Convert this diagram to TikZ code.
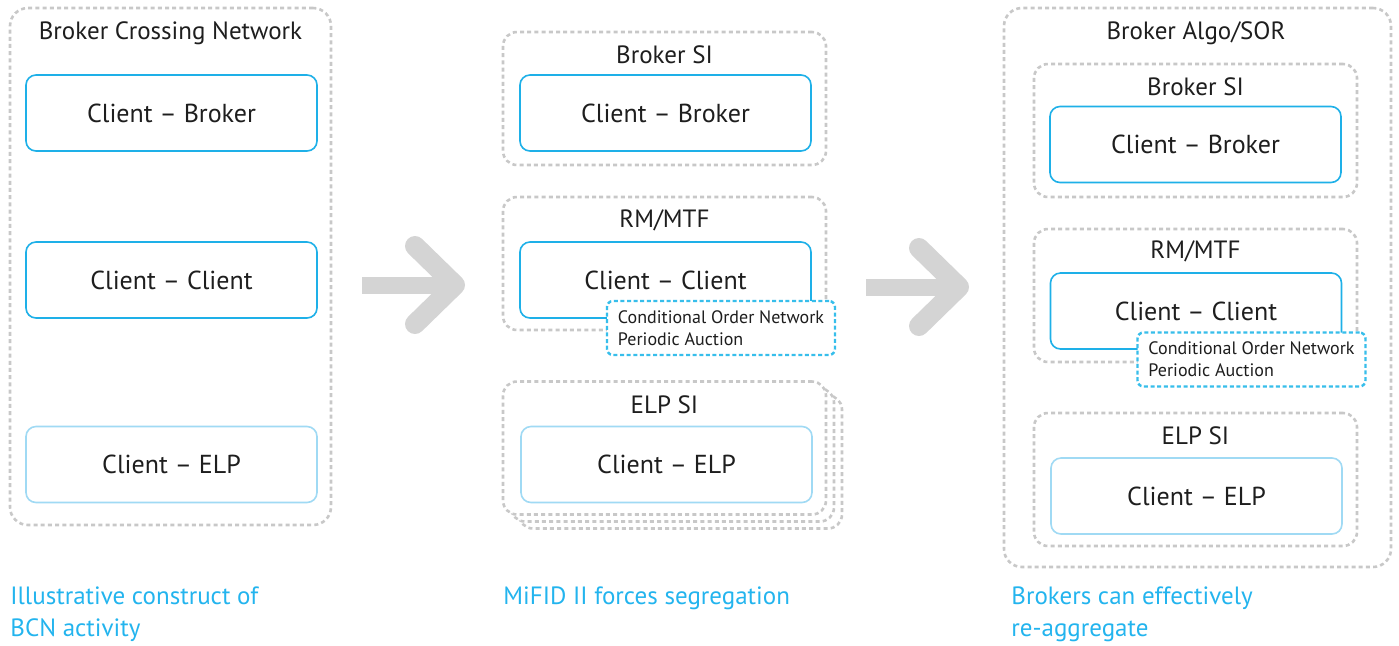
\documentclass[tikz,border=0pt]{standalone}
\usepackage{fontspec}
\setmainfont{PT Sans}
\definecolor{boxblue}{RGB}{30,176,232}
\definecolor{lightblue}{RGB}{160,218,244}
\definecolor{condblue}{RGB}{55,190,235}
\definecolor{dashgray}{RGB}{200,200,200}
\definecolor{arrowgray}{RGB}{212,212,212}
\definecolor{capblue}{RGB}{35,180,238}
\definecolor{txt}{RGB}{30,30,30}
\tikzset{
  outerbox/.style={draw=dashgray, line width=1.3pt, dash pattern=on 2pt off 1.6pt, rounded corners=9pt, fill=white},
  groupbox/.style={draw=dashgray, line width=1.3pt, dash pattern=on 2pt off 1.6pt, rounded corners=7pt, fill=white, minimum width=161.5pt, minimum height=66.5pt},
  innerbox/.style={draw=boxblue, line width=0.8pt, rounded corners=5pt, fill=white, minimum width=145.5pt, minimum height=38pt, font=\fontsize{13}{15}\selectfont, text=txt},
  elpbox/.style={innerbox, draw=lightblue},
  condbox/.style={draw=condblue, line width=1.2pt, dash pattern=on 2pt off 1.3pt, rounded corners=3pt, fill=white, minimum width=114pt, minimum height=27pt, align=left, font=\fontsize{9}{11}\selectfont, text=txt, inner sep=0pt},
  title/.style={font=\fontsize{12.5}{15}\selectfont, text=txt, inner sep=0pt},
  caption/.style={font=\fontsize{12.5}{16}\selectfont, text=capblue, anchor=west, align=left, inner sep=0pt},
  arrowbar/.style={draw=arrowgray, line width=8.5pt},
  arrowhead/.style={draw=arrowgray, line width=10pt, line cap=round, line join=round}
}
\begin{document}
\begin{tikzpicture}[x=0.5pt,y=-0.5pt]
\useasboundingbox (0,0) rectangle (1399,645);
% ---------- Panel 1
\node[outerbox, minimum width=160.5pt, minimum height=258.5pt] (bcn) at (170.5,266.5) {};
\node[title] (bcnt) at (170.5,33) {Broker Crossing Network};
\node[innerbox] (p1cb) at (171.5,113) {Client – Broker};
\node[innerbox] (p1cc) at (171.5,280) {Client – Client};
\node[elpbox] (p1ce) at (171.5,464.5) {Client – ELP};
\node[caption] (cap1) at (10,614) {Illustrative construct of\\BCN activity};
% ---------- Arrow 1
\coordinate (a1s) at (362,285);
\coordinate (a1e) at (455,285);
\draw[arrowbar] (a1s) -- (a1e);
\draw[arrowhead] (415,246) -- (455,285) -- (415,324);
% ---------- Panel 2
\node[groupbox] (p2si) at (664.5,98.5) {};
\node[title] (p2sit) at (664.5,55) {Broker SI};
\node[innerbox] (p2cb) at (665.5,113) {Client – Broker};
\node[groupbox] (p2rm) at (664.5,263.5) {};
\node[title] (p2rmt) at (664.5,220) {RM/MTF};
\node[innerbox] (p2cc) at (665.5,280) {Client – Client};
\node[condbox] (p2cond) at (721,328) {Conditional Order Network\\Periodic Auction};
\node[groupbox] (p2elp3) at (680.5,462) {};
\node[groupbox] (p2elp2) at (672.5,455) {};
\node[groupbox] (p2elp) at (664.5,448) {};
\node[title] (p2elpt) at (664.5,405) {ELP SI};
\node[elpbox] (p2ce) at (666.5,464.5) {Client – ELP};
\node[caption] (cap2) at (503,598) {MiFID II forces segregation};
% ---------- Arrow 2
\coordinate (a2s) at (866,287);
\coordinate (a2e) at (959,287);
\draw[arrowbar] (a2s) -- (a2e);
\draw[arrowhead] (919,248) -- (959,287) -- (919,326);
% ---------- Panel 3
\node[outerbox, minimum width=193.5pt, minimum height=279.5pt] (algo) at (1197.5,287.5) {};
\node[title] (algot) at (1196,33) {Broker Algo/SOR};
\node[groupbox] (p3si) at (1195.5,130.5) {};
\node[title] (p3sit) at (1195.5,87) {Broker SI};
\node[innerbox] (p3cb) at (1195.5,144.5) {Client – Broker};
\node[groupbox] (p3rm) at (1195.5,295.5) {};
\node[title] (p3rmt) at (1195.5,251) {RM/MTF};
\node[innerbox] (p3cc) at (1196,311) {Client – Client};
\node[condbox] (p3cond) at (1251.5,359.5) {Conditional Order Network\\Periodic Auction};
\node[groupbox] (p3elp) at (1195.5,479.5) {};
\node[title] (p3elpt) at (1195.5,436) {ELP SI};
\node[elpbox] (p3ce) at (1196.5,496) {Client – ELP};
\node[caption] (cap3) at (1011,614) {Brokers can effectively\\re-aggregate};
\end{tikzpicture}
\end{document}
